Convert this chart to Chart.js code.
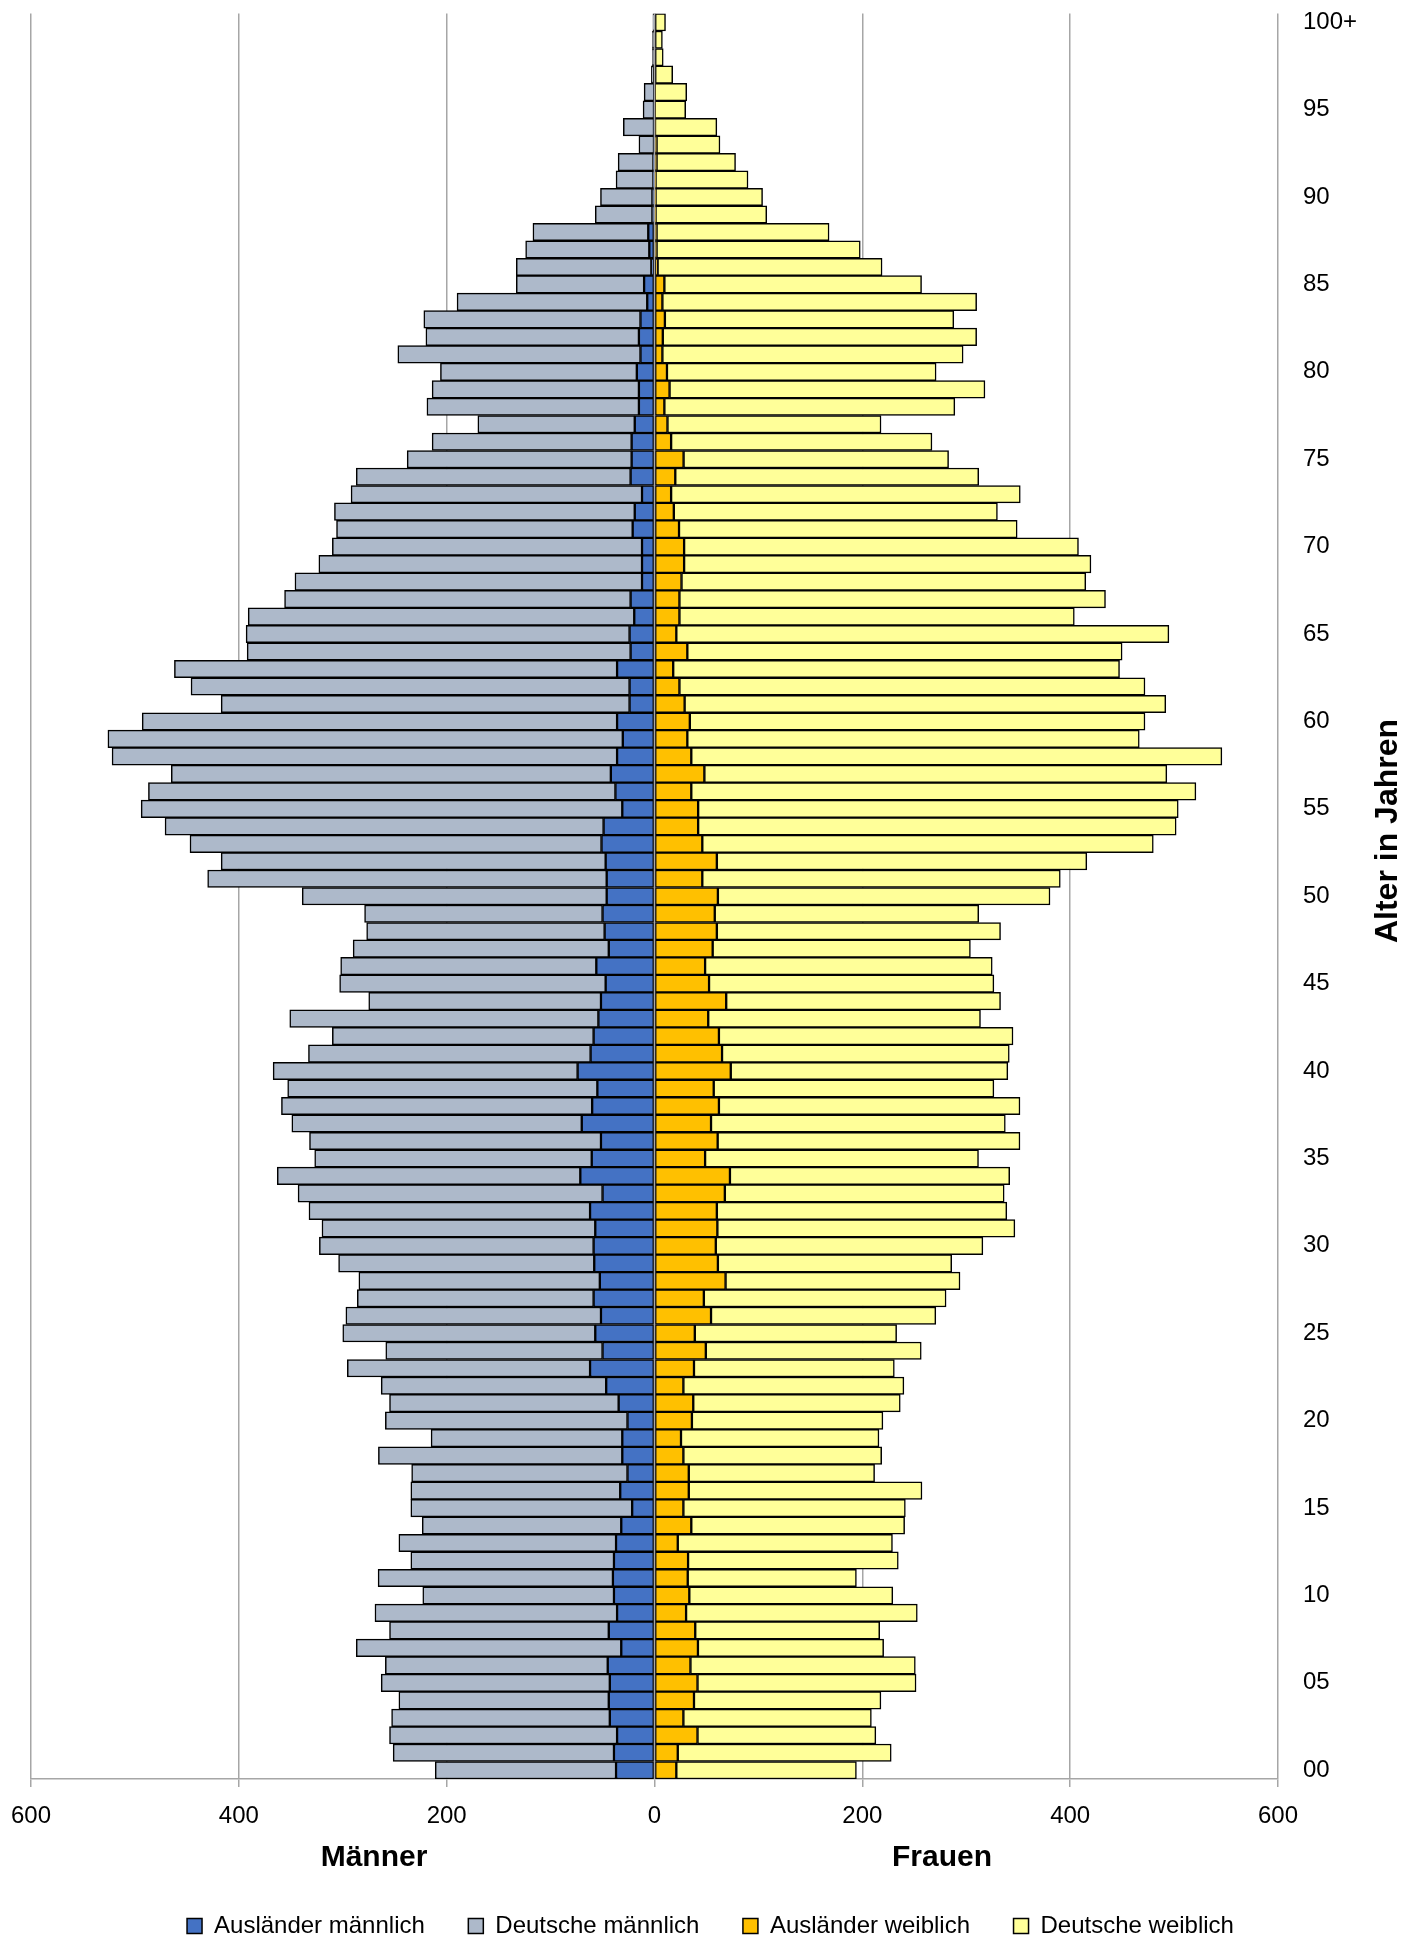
<!DOCTYPE html>
<html>
<head>
<meta charset="utf-8">
<script src="https://cdn.jsdelivr.net/npm/chart.js@4.4.1/dist/chart.umd.min.js"></script>
<style>
html,body{margin:0;padding:0;background:#fff;}
canvas{display:block;}
</style>
</head>
<body>
<canvas id="c" width="1402" height="1942"></canvas>
<script>
// Age groups 0 .. 100+ (bottom to top)
const ageLabels = ["00","01","02","03","04","05","06","07","08","09",
"10","11","12","13","14","15","16","17","18","19",
"20","21","22","23","24","25","26","27","28","29",
"30","31","32","33","34","35","36","37","38","39",
"40","41","42","43","44","45","46","47","48","49",
"50","51","52","53","54","55","56","57","58","59",
"60","61","62","63","64","65","66","67","68","69",
"70","71","72","73","74","75","76","77","78","79",
"80","81","82","83","84","85","86","87","88","89",
"90","91","92","93","94","95","96","97","98","99","100+"];

// Männer (negative = left side)
const auslaenderMaennlich = [-37,-39,-36,-43,-44,-43,-45,-32,-44,-36,
-39,-40,-39,-37,-32,-21.5,-33,-26,-31,-31,
-26,-34.5,-46.5,-62,-50,-57,-51.5,-58.6,-52.6,-58,
-58.6,-57,-62,-50,-71.4,-60.4,-51.5,-70,-60,-55,
-74,-61.5,-58.6,-54,-51.5,-47,-56,-44,-48,-50,
-46,-46,-47,-51,-49,-31,-37.6,-42,-36,-30.5,
-36,-24,-24,-36,-23,-24,-19.5,-23,-12,-12,
-12,-21,-19,-12,-23,-22,-22,-19,-15,-15,
-17,-13.5,-15,-13.5,-7,-10,-3,-5,-6,-2,
-2,-1,-1,-0.5,-0.5,-0.5,-0.3,0,0,0,0];

const deutscheMaennlich = [-174,-212.5,-219,-210,-202,-220,-214,-255,-211,-233,
-184,-226,-195.5,-209,-191.5,-213,-201.5,-207.7,-234.7,-184,
-233,-220.5,-216.5,-233.6,-208.6,-243,-245.5,-227.4,-231.9,-246,
-263.9,-263,-270.5,-293,-291.6,-266.6,-280.5,-279,-299,-298,
-293,-271.5,-251.4,-297,-223.5,-256,-246,-246,-229,-229,
-293,-384,-370,-396,-422,-463,-449.4,-423,-486,-495.5,
-457,-393,-422,-426,-369,-369,-371.5,-333,-334,-311,
-298,-285,-289,-280,-264,-216,-192,-151,-204,-199,
-189,-233.5,-205,-208.5,-183,-123,-130,-119,-111,-55,
-50,-36,-34,-14.5,-29.5,-10.5,-9.7,-3,-2,-2,-1.5];

// Frauen (positive = right side)
const auslaenderWeiblich = [21,22.4,41.4,27.8,38,41.4,34.6,41.8,39.2,30.4,
33.5,32,32.3,22.4,35.4,27.8,33,33,27.8,25.5,
36,37.3,27.8,38,49.4,38.8,54.4,47.5,68.4,61,
59,60.5,60,67.7,72.6,48.7,60.8,54.4,62,57,
73.4,65,62,51.7,69,52.5,48.7,56,60,58,
61,46,60,46,42,42,35.4,48,35.4,31.6,
34,29,24,18,31.6,21,24,24,26,28.5,
28.5,23.6,18.6,16,20,28,16,12.5,9.5,14.5,
12,7.6,8,10,7.6,9.5,3,2,2,1,
1,1,2,2,0.5,0.3,0.3,0,0,0,0];

const deutscheWeiblich = [173.3,205.4,171.6,180.9,179.9,210.3,216.4,178.7,177.5,222.5,
195.8,162.3,202.3,206.6,205.3,213.6,224.4,178.8,190.8,190.5,
183.8,199.2,212.2,192.8,207.3,194.2,216.3,233.1,225.6,225,
257,286.3,279,268.8,269.2,263.1,290.9,283.2,289.7,269.6,
266.6,276.4,283,262,264,274.1,276.3,248,273,254,
319.6,344.5,356,434,460,462,485.6,445,510.6,434.9,
438,463,448,429.5,418.4,474,380,410,389,391.5,
379.5,325.4,311.4,336,292,255,251,205.5,279.5,303.5,
259,289.4,302,278,302.4,247.5,216,196,166,107,
103,89,76,61,59.5,29.7,30.7,17.5,8.4,7.6,10.6];

const seriesNames = ["Ausländer männlich","Deutsche männlich","Ausländer weiblich","Deutsche weiblich"];
const seriesColors = ["#4472C4","#ADB9CA","#FFC000","#FFFF99"];
const xTickValues = [-600,-400,-200,0,200,400,600];

const FONT = '"Liberation Sans", Arial, sans-serif';
const GRID = '#A6A6A6';

const seriesData = [auslaenderMaennlich, deutscheMaennlich, auslaenderWeiblich, deutscheWeiblich];

const datasets = seriesData.map((d, i) => ({
  label: seriesNames[i],
  data: d,
  backgroundColor: seriesColors[i],
  borderColor: '#000000',
  borderWidth: 1.5,
  borderSkipped: false,
  barPercentage: 1.0,
  categoryPercentage: 1.0
}));

const extras = {
  id: 'extras',
  afterDatasetsDraw(chart) {
    const ctx = chart.ctx;
    const x = chart.scales.x;
    const a = chart.chartArea;
    const px = x.getPixelForValue(0);
    ctx.save();
    ctx.strokeStyle = GRID;
    ctx.lineWidth = 1.5;
    ctx.beginPath();
    ctx.moveTo(px, a.top);
    ctx.lineTo(px, a.bottom);
    ctx.stroke();
    ctx.restore();
  },
  afterDraw(chart) {
    const ctx = chart.ctx;
    ctx.save();
    ctx.fillStyle = '#000';
    ctx.textAlign = 'center';
    ctx.textBaseline = 'middle';
    ctx.font = 'bold 30px ' + FONT;
    ctx.fillText('Männer', 374, 1858);
    ctx.fillText('Frauen', 942, 1858);
    ctx.font = 'bold 32px ' + FONT;
    ctx.translate(1388, 831);
    ctx.rotate(-Math.PI / 2);
    ctx.fillText('Alter in Jahren', 0, 0);
    ctx.restore();
  }
};

new Chart(document.getElementById('c'), {
  type: 'bar',
  data: { labels: ageLabels, datasets: datasets },
  options: {
    indexAxis: 'y',
    responsive: false,
    animation: false,
    devicePixelRatio: 1,
    layout: { padding: { left: 31, top: 13.5, right: 12, bottom: -6 } },
    scales: {
      x: {
        stacked: true,
        min: -600, max: 600,
        afterBuildTicks(s) { s.ticks = xTickValues.map(v => ({ value: v })); },
        ticks: {
          color: '#000',
          font: { family: FONT, size: 24 },
          padding: 15,
          maxRotation: 0,
          callback: v => String(Math.abs(v))
        },
        grid: { color: GRID, lineWidth: 1.5, tickLength: 8, drawTicks: true, tickColor: GRID },
        border: { color: GRID, width: 1.5 },
        afterFit(s) { s.height = 91.5; s.paddingLeft = 0; s.paddingRight = 0; }
      },
      y: {
        stacked: true,
        position: 'right',
        reverse: true,
        grid: { display: false, drawTicks: false },
        border: { display: false },
        ticks: {
          autoSkip: false,
          padding: 25,
          color: '#000',
          font: { family: FONT, size: 24 },
          callback: (v, i) => (i % 5 === 0 ? ageLabels[i] : '')
        },
        afterFit(s) { s.width = 112; s.paddingTop = 0; s.paddingBottom = 0; }
      }
    },
    plugins: {
      legend: {
        position: 'bottom',
        labels: {
          boxWidth: 15, boxHeight: 15, padding: 43.5,
          color: '#000',
          font: { family: FONT, size: 24 }
        }
      },
      tooltip: { enabled: false }
    }
  },
  plugins: [extras]
});
</script>
</body>
</html>
